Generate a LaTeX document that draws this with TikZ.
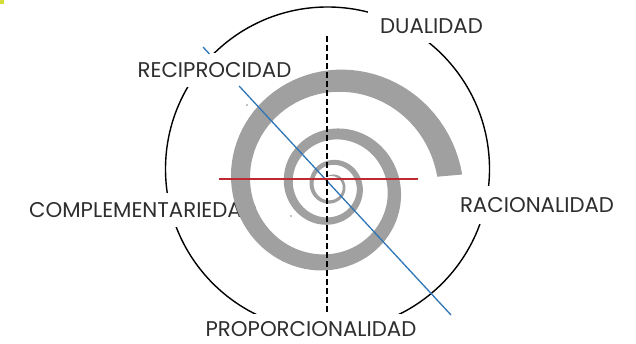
\documentclass[tikz,border=0pt]{standalone}
\usepackage{fontspec}
\setmainfont{Poppins}
\usetikzlibrary{calc}
\definecolor{spgray}{RGB}{160,160,160}
\definecolor{lnblue}{RGB}{46,117,182}
\definecolor{lnred}{RGB}{192,40,50}
\definecolor{markyel}{RGB}{215,220,60}
\begin{document}
\begin{tikzpicture}[x=1pt,y=-1pt,
  lbl/.style={fill=white, inner xsep=12pt, inner ysep=0pt, minimum height=34pt,
    font=\fontsize{21.3}{25}\selectfont, text=black!82},
  ring/.style={draw=black, line width=1.4pt},
  bluel/.style={draw=lnblue, line width=1.3pt},
  redl/.style={draw=lnred, line width=1.5pt},
  dashl/.style={draw=black, line width=2.4pt, dash pattern=on 6pt off 3pt},
  declare function={
    lr(\t)=2.565+2.19*\t/1000-1.1*(max(0,\t-720)/1000)^2;
    sr(\t)=exp(lr(\t));
    sw(\t)=0.21*sr(\t)*min(1,(\t+120)/60);
  }]
\useasboundingbox (0,0) rectangle (636,344);
\fill[fill=markyel] (0,0) rectangle (4,4);
% outer circle
\coordinate (cc) at (327.5,169);
\draw[ring] (cc) circle[radius=162];
% labels lying under the spiral
\node[lbl, anchor=west, inner xsep=0pt] (comp) at (29,210) {COMPLEMENTARIEDAD};
\node[lbl, inner xsep=2pt] (reci) at (214.5,70) {RECIPROCIDAD};
% spiral
\fill[fill=spgray] plot[domain=-120:1075, samples=320, variable=\t]
   ({331+(sr(\t)+sw(\t)/2)*cos(\t)}, {186+(sr(\t)+sw(\t)/2)*sin(\t)})
   -- plot[domain=1075:-120, samples=320, variable=\t]
   ({331+(sr(\t)-sw(\t)/2)*cos(\t)}, {186+(sr(\t)-sw(\t)/2)*sin(\t)}) -- cycle;
% axes
\coordinate (bA) at (203,47);
\coordinate (bB) at (451,315);
\coordinate (bG1) at ($(bA)!0.026!(bB)$);
\coordinate (bG2) at ($(bA)!0.1455!(bB)$);
\coordinate (rA) at (219,179);
\coordinate (rB) at (418,179);
\coordinate (dA) at (327,36);
\coordinate (dB) at (327,318);
\draw[bluel] (bA) -- (bG1);
\draw[bluel] (bG2) -- (bB);
\draw[redl] (rA) -- (rB);
\draw[dashl] (dA) -- (dB);
\fill[black] (247,105) circle[radius=0.6];
\fill[black] (291,216) circle[radius=0.6];
% labels
\node[lbl] (dual) at (431.5,26) {DUALIDAD};
\node[lbl, minimum height=38pt] (raci) at (537,205.5) {RACIONALIDAD};
\node[lbl, minimum height=31pt] (prop) at (311,329.5) {PROPORCIONALIDAD};
\end{tikzpicture}
\end{document}
